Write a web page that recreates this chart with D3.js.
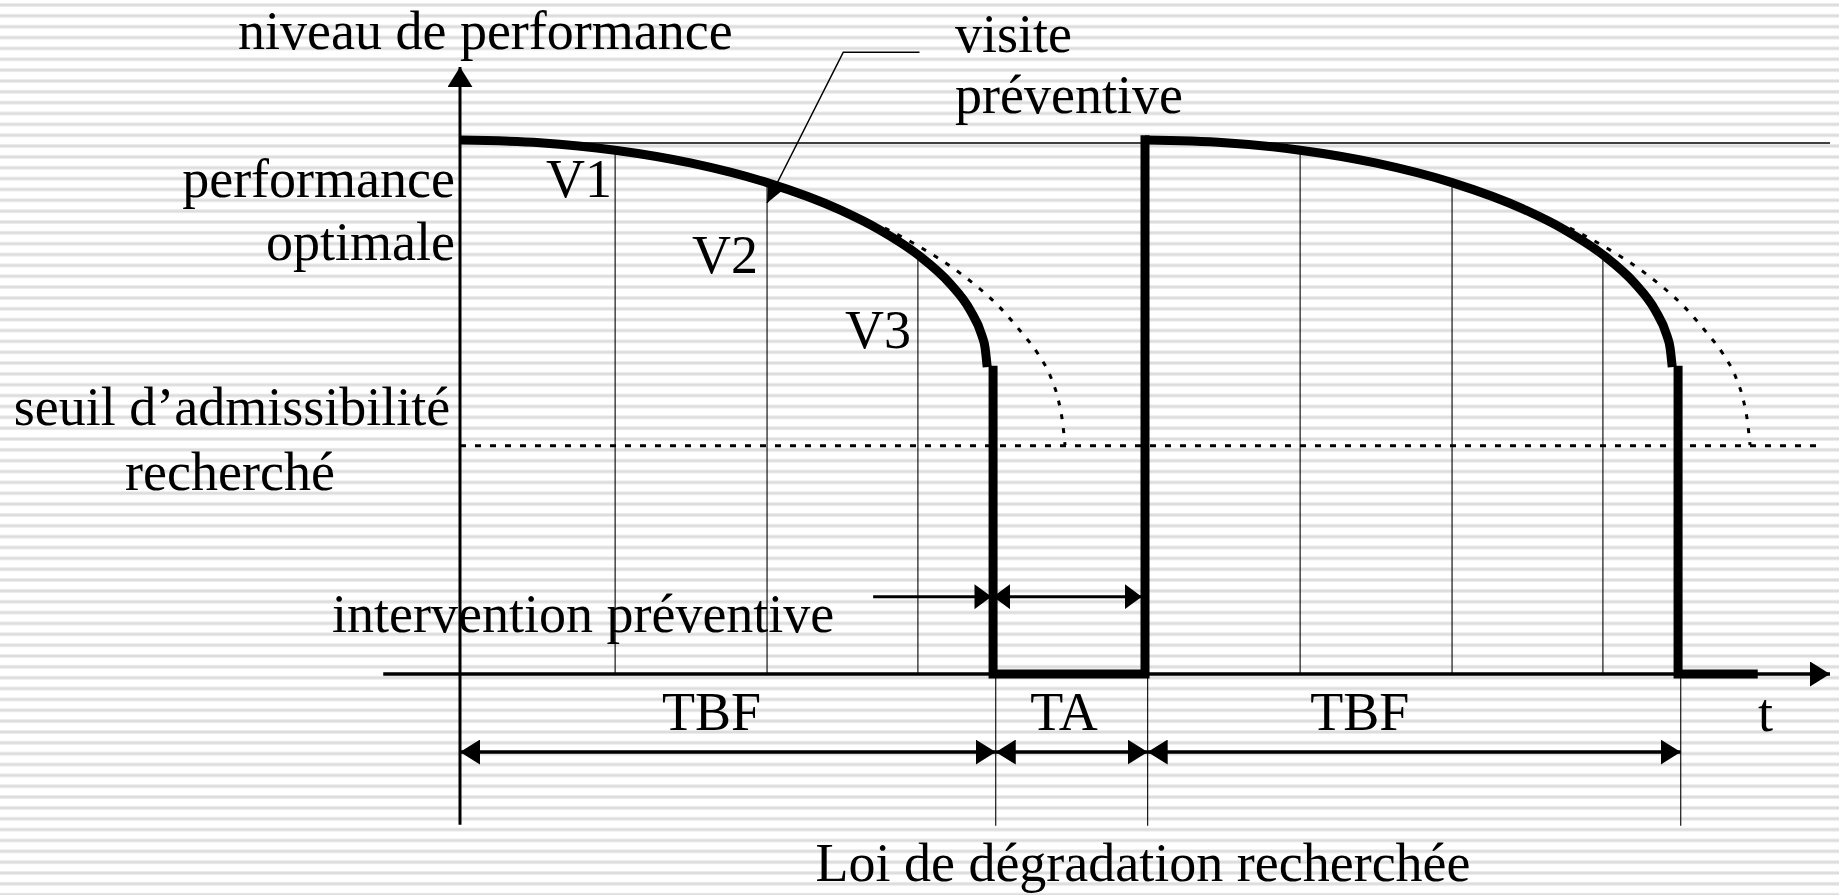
<!DOCTYPE html>
<html lang="fr">
<head>
<meta charset="UTF-8">
<title>Loi de dégradation recherchée</title>
<script src="https://d3js.org/d3.v7.min.js"></script>
<style>
  body { margin: 0; overflow: hidden; background: #fff; }
  svg text { font-family: "Liberation Serif", "Times New Roman", serif; font-size: 54px; fill: #000; }
</style>
</head>
<body>
<script>
// time unit: one TBF = 10, performance: optimal = 100
const cycleStarts = [0, 12.85];
const failureAge = 10.0;
const endOfRecord = 24.26;
const visitAges = [2.91, 5.76, 8.59];
const visitLevels = [98.65, 92.54, 78.96];
const visitNames = ["V1", "V2", "V3"];
const optimalLevel = 100;
const thresholdLevel = 43;
// observed degradation during one cycle [age, performance]
const degradation = [[0, 100.55], [1.5, 100.05], [2.91, 98.65], [4.32, 96.25], [5.76, 92.54], [7.13, 87.41],
  [7.88, 83.61], [8.59, 78.96], [9.19, 73.55], [9.57, 68.52], [9.79, 63.74], [9.85, 61.43], [9.89, 57.8]];
// law followed without preventive intervention (dotted)
const targetLaw = [[7.97, 84.0], [8.63, 80.4], [9.38, 75.5], [10.13, 69.0], [10.56, 64.0], [10.83, 60.5],
  [11.11, 55.2], [11.22, 51.8], [11.31, 46.9], [11.35, 43.1]];
const spans = [
  { label: "TBF", from: 0, to: 10.05, at: 4.72 },
  { label: "TA", from: 10.05, to: 12.9, at: 11.33 },
  { label: "TBF", from: 12.9, to: 22.9, at: 16.88 }
];

const W = 1839, H = 895;
const svg = d3.select("body").append("svg").attr("width", W).attr("height", H);

const x = d3.scaleLinear().domain([0, 25.7]).range([460, 1830]);
const y = d3.scaleLinear().domain([0, 100]).range([674, 143]);

// striped background
const bg = svg.append("g");
const stripeY = d3.range(5, H, 10.85);
bg.selectAll("rect.o").data(stripeY).join("rect").attr("class", "o")
  .attr("x", 0).attr("width", W).attr("y", d => d - 2).attr("height", 4).attr("fill", "#ececec");
bg.selectAll("rect.i").data(stripeY).join("rect").attr("class", "i")
  .attr("x", 0).attr("width", W).attr("y", d => d - 1).attr("height", 2).attr("fill", "#dddddd");

const defs = svg.append("defs");
function marker(id, len, half) {
  defs.append("marker").attr("id", id)
    .attr("viewBox", `0 0 ${len} ${2 * half}`)
    .attr("refX", len).attr("refY", half)
    .attr("markerWidth", len).attr("markerHeight", 2 * half)
    .attr("markerUnits", "userSpaceOnUse")
    .attr("orient", "auto-start-reverse")
    .append("path").attr("d", `M0,0L${len},${half}L0,${2 * half}Z`).attr("fill", "#000");
}
marker("big", 20, 12.5);
marker("mid", 17, 12.5);
marker("small", 18, 8);

const g = svg.append("g");

// optimal performance line
g.append("line")
  .attr("x1", x(0)).attr("x2", x(25.7)).attr("y1", y(optimalLevel)).attr("y2", y(optimalLevel))
  .attr("stroke", "#000").attr("stroke-width", 1.5);

// threshold
g.append("line")
  .attr("x1", x(0)).attr("x2", x(25.55)).attr("y1", y(thresholdLevel)).attr("y2", y(thresholdLevel))
  .attr("stroke", "#000").attr("stroke-width", 3).attr("stroke-dasharray", "6,9");

// visits
cycleStarts.forEach(s => {
  visitAges.forEach((a, i) => {
    g.append("line")
      .attr("x1", x(s + a)).attr("x2", x(s + a)).attr("y1", y(visitLevels[i])).attr("y2", y(0))
      .attr("stroke", "#000").attr("stroke-width", 1.1);
  });
});

// dimension reference lines below the axis
[10.05, 12.9, 22.9].forEach(t => {
  g.append("line").attr("x1", x(t)).attr("x2", x(t)).attr("y1", y(0)).attr("y2", y(-28.6))
    .attr("stroke", "#000").attr("stroke-width", 1.1);
});

// dotted law
const smooth = d3.line().x(d => x(d[0])).y(d => y(d[1])).curve(d3.curveMonotoneX);
cycleStarts.forEach(s => {
  g.append("path").attr("d", smooth(targetLaw.map(d => [d[0] + s, d[1]])))
    .attr("fill", "none").attr("stroke", "#000").attr("stroke-width", 3).attr("stroke-dasharray", "5,9");
});

// axes
g.append("line").attr("x1", x(0)).attr("x2", x(0)).attr("y1", y(-28.4)).attr("y2", y(114.3))
  .attr("stroke", "#000").attr("stroke-width", 3).attr("marker-end", "url(#big)");
g.append("line").attr("x1", x(-1.44)).attr("x2", x(25.7)).attr("y1", y(0)).attr("y2", y(0))
  .attr("stroke", "#000").attr("stroke-width", 3.5).attr("marker-end", "url(#big)");

// callout "visite préventive"
g.append("path")
  .attr("d", d3.line()([[x(8.62), y(117.1)], [x(7.19), y(117.1)], [x(5.76), y(88.7)]]))
  .attr("fill", "none").attr("stroke", "#000").attr("stroke-width", 1.5).attr("marker-end", "url(#small)");

// thick performance path
const thick = { fill: "none", stroke: "#000", "stroke-width": 9 };
function styled(sel) { Object.entries(thick).forEach(([k, v]) => sel.attr(k, v)); return sel; }
const straight = d3.line().x(d => x(d[0])).y(d => y(d[1]));
cycleStarts.forEach((s, i) => {
  styled(g.append("path")).attr("d", smooth(degradation.map(d => [d[0] + s, d[1]])));
  const drop = s + failureAge;
  const next = i + 1 < cycleStarts.length ? cycleStarts[i + 1] : null;
  const pts = next !== null
    ? [[drop, 57.2], [drop, 0], [next, 0], [next, 100.6]]
    : [[drop, 57.2], [drop, 0], [endOfRecord, 0]];
  styled(g.append("path")).attr("d", straight(pts))
    .attr("stroke-linejoin", "miter").attr("stroke-linecap", "square");
});

// intervention arrows
g.append("line").attr("x1", x(7.75)).attr("x2", x(9.97)).attr("y1", y(14.56)).attr("y2", y(14.56))
  .attr("stroke", "#000").attr("stroke-width", 3).attr("marker-end", "url(#mid)");
g.append("line").attr("x1", x(10.0)).attr("x2", x(12.79)).attr("y1", y(14.56)).attr("y2", y(14.56))
  .attr("stroke", "#000").attr("stroke-width", 3)
  .attr("marker-start", "url(#mid)").attr("marker-end", "url(#mid)");

// span arrows
spans.forEach(sp => {
  g.append("line").attr("x1", x(sp.from)).attr("x2", x(sp.to)).attr("y1", y(-14.7)).attr("y2", y(-14.7))
    .attr("stroke", "#000").attr("stroke-width", 3.5)
    .attr("marker-start", "url(#big)").attr("marker-end", "url(#big)");
  g.append("text").attr("x", x(sp.at)).attr("y", 730).attr("text-anchor", "middle").text(sp.label);
});

// labels
const txt = (s, px, py, anchor) => g.append("text").attr("x", px).attr("y", py)
  .attr("text-anchor", anchor || "start").text(s);
txt("niveau de performance", 238, 49);
txt("visite", 955, 52);
txt("préventive", 955, 113);
txt("performance", 455, 197, "end");
txt("optimale", 455, 260, "end");
txt("seuil d’admissibilité", 232, 425, "middle");
txt("recherché", 230, 490, "middle");
txt("intervention préventive", 332, 632);
txt("t", 1758, 731);
txt("Loi de dégradation recherchée", 1143, 881, "middle");
const vOffset = [[-69, 197], [-75, 273], [-73, 348]];
visitNames.forEach((v, i) => txt(v, x(visitAges[i]) + vOffset[i][0], vOffset[i][1]));
</script>
</body>
</html>
